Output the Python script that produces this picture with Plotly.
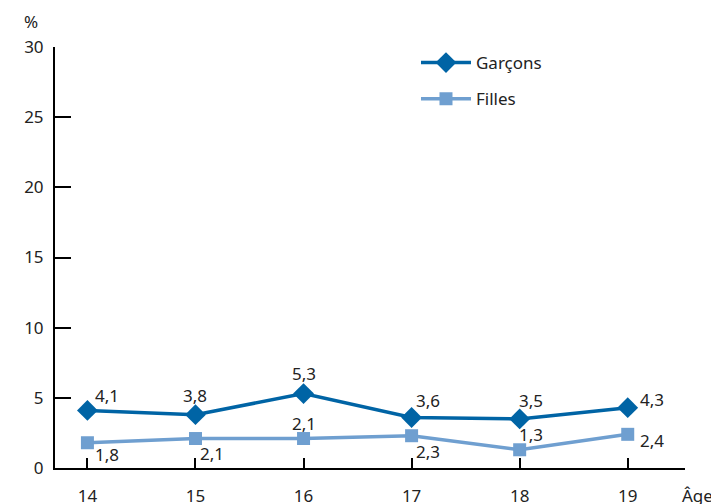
import plotly.graph_objects as go

ages = [14, 15, 16, 17, 18, 19]
garcons = [4.1, 3.8, 5.3, 3.6, 3.5, 4.3]
filles = [1.8, 2.1, 2.1, 2.3, 1.3, 2.4]
y_ticks = [0, 5, 10, 15, 20, 25, 30]

DARK = "#0064a5"
LIGHT = "#6f9fd0"
FONT = "Noto Sans"
TXT = "#222"

# label offsets (px) for each data label
g_off = [(20, 15), (0, 19), (0, 20), (16, 17), (11, 18), (24, 8)]
f_off = [(20, -12), (17, -15), (0, 15), (16, -16), (11, 15), (24, -6)]

fig = go.Figure()
fig.add_trace(go.Scatter(
    x=ages, y=garcons, name="Garçons", mode="lines+markers",
    line=dict(color=DARK, width=3.5),
    marker=dict(symbol="diamond", size=16, color=DARK),
    legend="legend", showlegend=True,
))
fig.add_trace(go.Scatter(
    x=ages, y=filles, name="Filles", mode="lines+markers",
    line=dict(color=LIGHT, width=3.5),
    marker=dict(symbol="square", size=13, color=LIGHT),
    legend="legend2", showlegend=True,
))

for vals, offs in ((garcons, g_off), (filles, f_off)):
    for a, v, (dx, dy) in zip(ages, vals, offs):
        fig.add_annotation(
            x=a, y=v, text=f"{v:.1f}".replace(".", ","), showarrow=False,
            xshift=dx, yshift=dy, font=dict(size=17, color=TXT),
        )

# axis titles
fig.add_annotation(x=-0.038, y=1.06, xref="paper", yref="paper", text="%",
                   showarrow=False, xanchor="center", yanchor="middle",
                   font=dict(size=17, color=TXT))
fig.add_annotation(x=1.02, y=-0.065, xref="paper", yref="paper", text="Âge",
                   showarrow=False, xanchor="center", yanchor="middle",
                   font=dict(size=17, color=TXT))

leg = dict(bgcolor="rgba(0,0,0,0)", borderwidth=0, itemwidth=50,
           font=dict(size=17, family=FONT, color=TXT),
           xanchor="left", yanchor="middle", x=0.573)

fig.update_layout(
    width=711, height=504,
    margin=dict(l=55, r=26, t=47, b=36, autoexpand=False),
    plot_bgcolor="white", paper_bgcolor="white",
    font=dict(family=FONT, size=17, color=TXT),
    showlegend=True,
    legend=dict(leg, y=0.962),
    legend2=dict(leg, y=0.876),
    xaxis=dict(
        range=[13.7, 19.53], tickvals=ages + [19.53],
        ticktext=[str(a) for a in ages] + [""],
        showgrid=False, zeroline=False, showline=True, automargin=False,
        linecolor="black", linewidth=2,
        ticks="inside", ticklen=10, tickwidth=2, tickcolor="black",
        ticklabelstandoff=12,
    ),
    yaxis=dict(
        range=[0, 30], tickvals=y_ticks,
        showgrid=False, zeroline=False, showline=True, automargin=False,
        linecolor="black", linewidth=2,
        ticks="inside", ticklen=16, tickwidth=2, tickcolor="black",
        ticklabelstandoff=6,
    ),
)

fig.write_html("out.html", config={"displayModeBar": False},
               post_script="document.body.style.margin='0';")
